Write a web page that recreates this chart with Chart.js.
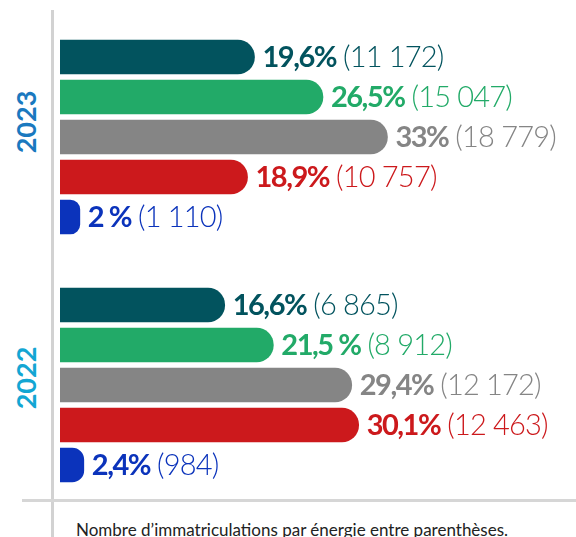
<!DOCTYPE html>
<html lang="fr">
<head>
<meta charset="UTF-8">
<title>Immatriculations par énergie</title>
<script src="https://cdn.jsdelivr.net/npm/chart.js"></script>
<style>
    html, body { margin: 0; padding: 0; background: #fff; }
    #wrap { position: relative; width: 576px; height: 537px; overflow: hidden; font-family: Lato, "Noto Sans", sans-serif; }
    .chart { position: absolute; left: 0; width: 576px; height: 200px; }
    #c2023 { top: 37px; }
    #c2022 { top: 285px; }
    .vline { position: absolute; left: 51px; top: 10px; width: 2.5px; height: 530px; background: #d2d2d2; }
    .hline { position: absolute; left: 22px; top: 499px; width: 560px; height: 2.5px; background: #d6d6d6; }
    .year { position: absolute; font-weight: 700; font-size: 27px; transform: translate(-50%, -50%) rotate(-90deg); white-space: nowrap; }
    .note { position: absolute; left: 76px; top: 519px; font-size: 17px; color: #222; white-space: nowrap; }
</style>
</head>
<body>
<div id="wrap">
    <div class="vline"></div>
    <div class="hline"></div>
    <div class="year" style="left:25px; top:122px; color:#1a79bf;">2023</div>
    <div class="year" style="left:25px; top:378px; color:#13a6d3;">2022</div>
    <canvas id="c2023" class="chart" width="576" height="200"></canvas>
    <canvas id="c2022" class="chart" width="576" height="200"></canvas>
    <div class="note">Nombre d’immatriculations par énergie entre parenthèses.</div>
</div>

<script>
    // énergies, dans l'ordre des barres
    const energies = ['Essence', 'Hybride', 'Diesel', 'Électrique', 'Autres'];
    const colors = ['#02535e', '#22aa68', '#858585', '#cc191c', '#0b33bb'];

    const pct2023 = [19.6, 26.5, 33, 18.9, 2];
    const count2023 = ['11 172', '15 047', '18 779', '10 757', '1 110'];
    const pctLabels2023 = ['19,6%', '26,5%', '33%', '18,9%', '2 %'];

    const pct2022 = [16.6, 21.5, 29.4, 30.1, 2.4];
    const count2022 = ['6 865', '8 912', '12 172', '12 463', '984'];
    const pctLabels2022 = ['16,6%', '21,5 %', '29,4%', '30,1%', '2,4%'];

    const valueLabels = {
        id: 'valueLabels',
        afterDatasetsDraw(chart, args, opts) {
            const ctx = chart.ctx;
            const meta = chart.getDatasetMeta(0);
            ctx.save();
            ctx.textBaseline = 'middle';
            meta.data.forEach((bar, i) => {
                let x = bar.x + 8;
                const y = bar.y + 1;
                ctx.fillStyle = colors[i];
                ctx.font = '700 29px Lato, "Noto Sans", sans-serif';
                ctx.letterSpacing = '-1.5px';
                ctx.fillText(opts.pct[i], x, y);
                x += ctx.measureText(opts.pct[i]).width + 7;
                ctx.font = '300 29px Lato, "Noto Sans", sans-serif';
                ctx.letterSpacing = '-0.8px';
                ctx.fillText('(' + opts.counts[i] + ')', x, y);
            });
            ctx.restore();
        }
    };

    function makeChart(id, values, pctLabels, counts) {
        return new Chart(document.getElementById(id), {
            type: 'bar',
            data: {
                labels: energies,
                datasets: [{
                    data: values,
                    backgroundColor: colors,
                    barThickness: 34,
                    borderRadius: { topRight: 17, bottomRight: 17, topLeft: 0, bottomLeft: 0 },
                    borderSkipped: 'start'
                }]
            },
            options: {
                indexAxis: 'y',
                responsive: false,
                animation: false,
                layout: { padding: { left: 60, right: 0, top: 0, bottom: 0 } },
                scales: {
                    x: { display: false, min: 0, max: 52 },
                    y: { display: false }
                },
                plugins: {
                    legend: { display: false },
                    tooltip: { enabled: false },
                    valueLabels: { pct: pctLabels, counts: counts }
                }
            },
            plugins: [valueLabels]
        });
    }

    makeChart('c2023', pct2023, pctLabels2023, count2023);
    makeChart('c2022', pct2022, pctLabels2022, count2022);
</script>
</body>
</html>
